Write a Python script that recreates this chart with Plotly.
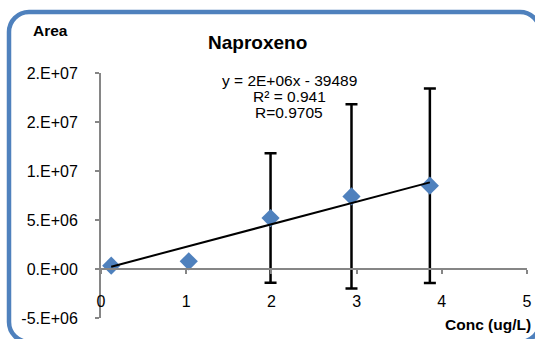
import plotly.graph_objects as go

# Calibration data: concentration vs. peak area
conc = [0.12, 1.03, 1.99, 2.94, 3.86]
area = [0.34e6, 0.78e6, 5.2e6, 7.41e6, 8.5e6]
area_err = [0, 0, 6.6e6, 9.4e6, 9.93e6]

# Linear trendline coefficients
trend_slope = 2.3e6
trend_intercept = -39489

x_ticks = [0, 1, 2, 3, 4, 5]
y_ticks = [-5e6, 0, 5e6, 1e7, 1.5e7, 2e7]
y_tick_labels = ["-5.E+06", "0.E+00", "5.E+06", "1.E+07", "2.E+07", "2.E+07"]

title_text = "Naproxeno"
y_title = "Area"
x_title = "Conc (ug/L)"
equation_lines = ["y = 2E+06x - 39489", "R² = 0.941", "R=0.9705"]

W, H = 535, 339
ML, MR, MT, MB = 101, 8, 73, 21
PW, PH = W - ML - MR, H - MT - MB
X_RANGE = [0, 5]
Y_RANGE = [-5e6, 2e7]

AXIS_GREY = "#868686"
BLUE = "#4F81BD"
FONT = "Liberation Sans, Arial, sans-serif"


def fx(px):
    return (px - ML) / PW


def fy(py):
    return (H - MB - py) / PH


fig = go.Figure()

fig.add_trace(go.Scatter(
    x=conc, y=area, mode="markers",
    marker=dict(symbol="diamond", size=14, color=BLUE, line=dict(width=0)),
    error_y=dict(type="data", array=area_err, visible=True,
                 color="black", thickness=2.5, width=6),
    showlegend=False,
))

trend_x = [min(conc), max(conc)]
trend_y = [trend_slope * v + trend_intercept for v in trend_x]
fig.add_trace(go.Scatter(
    x=trend_x, y=trend_y, mode="lines",
    line=dict(color="black", width=2), showlegend=False,
))

# Rounded chart-area border
left, top, right, bottom, r = 9, 12, 540, 342, 20
k = 0.5523 * r


def P(px, py):
    return f"{fx(px):.5f},{fy(py):.5f}"


path = (
    f"M {P(left + r, top)} L {P(right - r, top)} "
    f"C {P(right - r + k, top)} {P(right, top + r - k)} {P(right, top + r)} "
    f"L {P(right, bottom - r)} "
    f"C {P(right, bottom - r + k)} {P(right - r + k, bottom)} {P(right - r, bottom)} "
    f"L {P(left + r, bottom)} "
    f"C {P(left + r - k, bottom)} {P(left, bottom - r + k)} {P(left, bottom - r)} "
    f"L {P(left, top + r)} "
    f"C {P(left, top + r - k)} {P(left + r - k, top)} {P(left + r, top)} Z"
)
fig.add_shape(type="path", path=path, xref="paper", yref="paper",
              line=dict(color=BLUE, width=4.5), layer="above")

annotations = [
    dict(text=f"<b>{title_text}</b>", x=fx(257), y=fy(42), font=dict(size=19)),
    dict(text=f"<b>{y_title}</b>", x=fx(50.5), y=fy(31), font=dict(size=15.5)),
    dict(text=f"<b>{x_title}</b>", x=fx(533), y=fy(324), xanchor="right",
         font=dict(size=15.5)),
]
for i, line in enumerate(equation_lines):
    annotations.append(dict(text=line, x=fx(289), y=fy(80 + 16 * i),
                            font=dict(size=15.5)))
for a in annotations:
    a.setdefault("xanchor", "center")
    a.update(xref="paper", yref="paper", yanchor="middle", showarrow=False)
    a["font"].update(family=FONT, color="black")

fig.update_layout(
    template="none",
    width=W, height=H,
    margin=dict(l=ML, r=MR, t=MT, b=MB, pad=0),
    paper_bgcolor="white", plot_bgcolor="white",
    font=dict(family=FONT, size=16, color="black"),
    annotations=annotations,
    xaxis=dict(
        range=X_RANGE, tickvals=x_ticks, ticktext=[str(v) for v in x_ticks],
        showgrid=False, zeroline=False, showline=True, automargin=False,
        linecolor=AXIS_GREY, linewidth=2,
        ticks="outside", ticklen=4, tickwidth=1.5, tickcolor=AXIS_GREY,
        anchor="free", position=(0 - Y_RANGE[0]) / (Y_RANGE[1] - Y_RANGE[0]),
        ticklabelstandoff=14,
        tickfont=dict(size=16, family=FONT, color="black"),
    ),
    yaxis=dict(
        range=Y_RANGE, tickvals=y_ticks, ticktext=y_tick_labels,
        showgrid=False, zeroline=False, showline=True, automargin=False,
        linecolor=AXIS_GREY, linewidth=2,
        ticks="outside", ticklen=4, tickwidth=1.5, tickcolor=AXIS_GREY,
        ticklabelstandoff=14,
        tickfont=dict(size=16, family=FONT, color="black"),
    ),
)

fig.write_html("out.html", config=dict(displayModeBar=False))
